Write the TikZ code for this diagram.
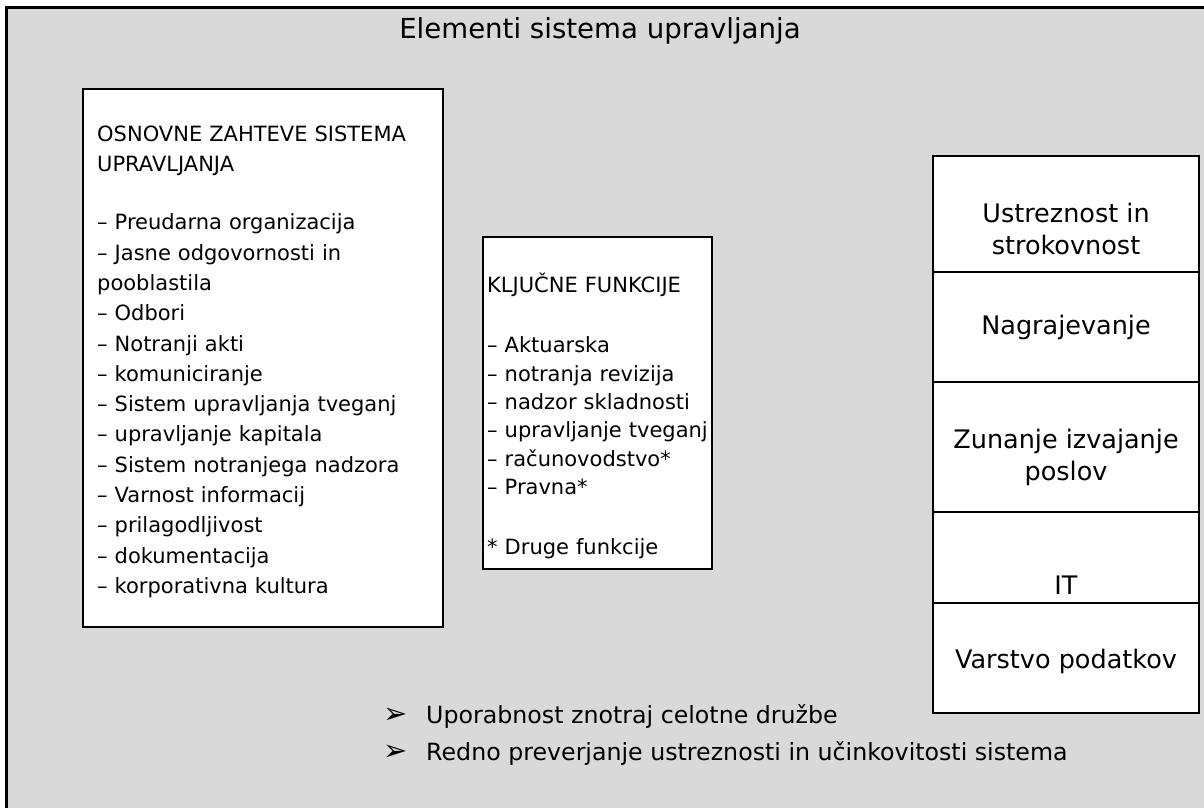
\documentclass[tikz,border=0pt]{standalone}
\usepackage{fontspec}
\setmainfont{DejaVu Sans}
\newfontfamily\symfont{DejaVu Sans}
\usetikzlibrary{positioning}
\definecolor{panelgray}{HTML}{D9D9D9}
\tikzset{
  panel/.style={draw, line width=3pt, fill=panelgray},
  listbox/.style={draw, line width=2.6pt, fill=white, anchor=north west, inner sep=0pt, outer sep=0pt},
  listtext/.style={anchor=north west, align=left, inner sep=0pt, font=\fontsize{21}{30.3}\selectfont},
  cellbox/.style={draw, line width=2.6pt, fill=white, minimum width=266pt, anchor=north, inner sep=0pt, outer sep=0pt},
  celltext/.style={align=center, inner sep=0pt, font=\fontsize{25.5}{32}\selectfont},
  bulletline/.style={anchor=west, inner sep=0pt, font=\fontsize{23.7}{28}\selectfont},
  titletext/.style={inner sep=0pt, font=\fontsize{27.6}{32}\selectfont}
}
\newcommand{\arrowbullet}{\makebox[43pt][l]{\symfont\fontsize{29}{29}\selectfont ➢}}

\begin{document}
\begin{tikzpicture}[x=1pt, y=-1pt]
\clip (0,0) rectangle (1204,807);
\useasboundingbox (0,0) rectangle (1204,807);

% Background
\draw[panel] (6,7) rectangle (1230,830);
\node[titletext] (title) at (600,31) {Elementi sistema upravljanja};

% Requirements
\node[listbox, minimum width=360pt, minimum height=538pt] (reqbox) at (83,89) {};
\node[listtext, text width=345pt] (reqtext) at (97,125.5) {OSNOVNE ZAHTEVE SISTEMA\\
UPRAVLJANJA\\[28pt]
– Preudarna organizacija\\
– Jasne odgovornosti in\\
pooblastila\\
– Odbori\\
– Notranji akti\\
– komuniciranje\\
– Sistem upravljanja tveganj\\
– upravljanje kapitala\\
– Sistem notranjega nadzora\\
– Varnost informacij\\
– prilagodljivost\\
– dokumentacija\\
– korporativna kultura};

% Key functions
\node[listbox, minimum width=229pt, minimum height=332pt] (funcbox) at (483,237) {};
\node[listtext, text width=240pt, font=\fontsize{21}{28.4}\selectfont] (functext) at (487,273) {KLJUČNE FUNKCIJE\\[31.6pt]
– Aktuarska\\
– notranja revizija\\
– nadzor skladnosti\\
– upravljanje tveganj\\
– računovodstvo*\\
– Pravna*\\[31.6pt]
* Druge funkcije};

% Right column
\node[cellbox, minimum height=116pt] (fitcell) at (1066,156) {};
\node[cellbox, minimum height=110pt, below=0pt of fitcell] (paycell) {};
\node[cellbox, minimum height=130pt, below=0pt of paycell] (outcell) {};
\node[cellbox, minimum height=91pt, below=0pt of outcell] (itcell) {};
\node[cellbox, minimum height=110pt, below=0pt of itcell] (datacell) {};
\node[celltext] (fittext) at ([yshift=-15pt]fitcell.center) {Ustreznost in\\strokovnost};
\node[celltext] (paytext) at (paycell.center) {Nagrajevanje};
\node[celltext] (outtext) at ([yshift=-10pt]outcell.center) {Zunanje izvajanje\\poslov};
\node[celltext] (ittext) at ([yshift=-28pt]itcell.center) {IT};
\node[celltext] (datatext) at ([yshift=-3pt]datacell.center) {Varstvo podatkov};

% Bullets
\node[bulletline] (useitem) at (383,716) {\arrowbullet Uporabnost znotraj celotne družbe};
\node[bulletline] (checkitem) at (383,753) {\arrowbullet Redno preverjanje ustreznosti in učinkovitosti sistema};

\end{tikzpicture}
\end{document}
